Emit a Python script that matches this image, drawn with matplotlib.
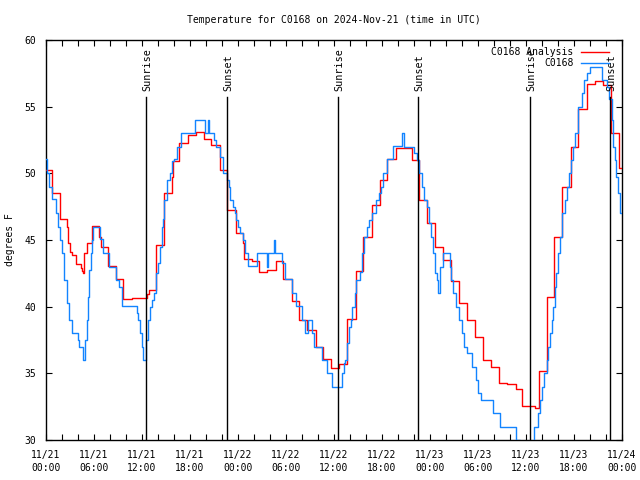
import matplotlib
matplotlib.use("Agg")
import matplotlib.pyplot as plt
from matplotlib.ticker import MultipleLocator, FixedLocator

# ---- data (hours since 2024-11-21 00:00 UTC, temperature F) ----
analysis_hours = [0.0, 0.7, 1.75, 2.6, 2.8, 3.0, 3.2, 3.7, 4.33, 4.46, 4.58, 4.8, 5.08, 5.7,
                  6.67, 6.83, 7.7, 8.75, 9.67, 10.7, 12.58, 12.9, 13.7, 14.7, 15.7, 15.9,
                  16.67, 17.8, 18.8, 19.7, 20.6, 21.75, 22.67, 23.8, 24.67, 24.8, 25.8,
                  26.67, 27.6, 28.7, 29.67, 30.7, 31.67, 32.67, 33.7, 34.67, 35.6, 36.6,
                  37.67, 38.7, 39.67, 40.7, 41.75, 42.67, 43.7, 45.7, 46.67, 47.67, 48.67,
                  49.6, 50.6, 51.6, 52.6, 53.6, 54.6, 55.6, 56.6, 57.67, 58.7, 59.5, 61.1,
                  61.6, 62.6, 63.5, 64.5, 65.6, 66.5, 67.6, 68.6, 69.6, 70.6, 71.6, 72.0]
analysis_temps = [50.25, 48.55, 46.55, 45.95, 44.8, 44.1, 43.9, 43.2, 42.9, 42.7, 42.5, 44.0,
                  44.75, 46.05, 45.2, 44.5, 43.05, 42.05, 40.6, 40.65, 40.95, 41.25, 44.6,
                  48.5, 49.7, 50.9, 52.25, 52.9, 53.1, 52.6, 52.1, 50.25, 47.25, 45.5, 44.75,
                  43.6, 43.4, 42.6, 42.75, 43.4, 42.05, 40.4, 39.0, 38.25, 37.0, 36.05, 35.4,
                  35.7, 39.1, 42.7, 45.25, 47.6, 49.5, 51.05, 51.9, 51.0, 48.0, 46.25, 44.45,
                  43.5, 41.9, 40.25, 39.0, 37.75, 36.0, 35.5, 34.3, 34.2, 33.8, 32.55, 32.4,
                  35.2, 40.75, 45.2, 49.0, 52.0, 54.8, 56.7, 56.95, 56.6, 53.0, 50.4, 50.4]

obs_hours = [0.0, 0.17, 0.42, 0.8, 1.25, 1.54, 1.75, 2.04, 2.3, 2.58, 2.88, 3.2, 3.96, 4.1,
             4.58, 4.875, 5.08, 5.3, 5.42, 5.58, 5.7, 5.92, 6.75, 7.17, 7.875, 8.75, 9.125,
             9.54, 11.33, 11.54, 11.75, 11.96, 12.17, 12.5, 12.8, 13.0, 13.3, 13.5, 13.8,
             14.0, 14.25, 14.46, 14.67, 14.8, 15.08, 15.5, 15.8, 16.04, 16.33, 16.83,
             18.625, 19.875, 20.3, 20.4, 21.0, 21.25, 21.75, 22.08, 22.67, 22.83, 23.0,
             23.33, 23.6, 23.8, 24.0, 24.3, 24.67, 24.875, 25.3, 26.33, 27.6, 27.7, 28.5,
             28.6, 29.46, 29.875, 30.7, 31.2, 32.04, 32.375, 32.8, 33.2, 33.5, 34.46,
             35.17, 35.8, 37.04, 37.2, 37.4, 37.67, 37.9, 38.1, 38.3, 38.6, 38.8, 39.2,
             39.54, 39.75, 40.08, 40.375, 40.7, 41.2, 41.625, 41.83, 42.17, 42.67, 43.4,
             44.46, 44.75, 46.04, 46.4, 46.67, 46.96, 47.25, 47.6, 47.9, 48.125, 48.4,
             48.625, 48.83, 49.04, 49.25, 49.67, 50.5, 50.58, 50.9, 51.2, 51.67, 51.96,
             52.25, 52.58, 53.2, 53.75, 54.04, 54.375, 55.9, 56.75, 58.75, 59.25, 61.04,
             61.5, 61.75, 61.96, 62.25, 62.6, 62.8, 63.0, 63.2, 63.4, 63.6, 63.8, 64.04,
             64.25, 64.5, 64.875, 65.08, 65.375, 65.58, 65.9, 66.125, 66.5, 66.96, 67.25,
             67.6, 68.0, 69.46, 70.08, 70.4, 70.7, 70.9, 71.1, 71.3, 71.5, 71.75, 72.0]
obs_temps = [51.1, 50.0, 49.0, 48.05, 47.0, 46.0, 45.0, 44.0, 42.0, 40.25, 39.0, 38.0, 37.5,
             37.0, 36.0, 37.5, 39.0, 40.75, 42.75, 44.0, 45.0, 46.0, 45.05, 44.0, 43.0, 42.0,
             41.5, 40.05, 39.5, 39.0, 38.0, 37.0, 36.0, 37.5, 39.0, 40.0, 40.5, 41.0, 42.5,
             43.25, 44.5, 46.0, 46.6, 48.0, 49.5, 50.0, 50.9, 51.1, 52.0, 53.0,
             54.0, 53.0, 54.0, 53.0, 52.5, 52.0, 51.25, 50.0, 49.5, 49.0, 48.0,
             47.5, 47.0, 46.5, 46.0, 45.5, 45.0, 44.0, 43.05, 44.0, 43.0, 44.0, 45.0,
             44.0, 43.25, 42.05, 41.0, 40.05, 39.0, 38.0, 39.0, 38.0, 37.0, 36.0,
             35.0, 34.0, 35.0, 35.75, 36.0, 37.25, 38.5, 39.0, 40.0, 41.0, 42.0, 42.6,
             44.0, 45.25, 46.0, 46.5, 47.0, 48.0, 48.5, 49.0, 50.0, 51.05, 52.05,
             53.0, 52.0, 51.5, 51.0, 50.0, 49.0, 48.0, 47.5, 46.25, 45.25, 44.0,
             42.5, 42.0, 41.0, 43.0, 44.0, 43.0, 42.0, 41.0, 40.0, 39.0, 38.0,
             37.0, 36.5, 35.5, 34.5, 33.5, 33.0, 32.0, 31.0, 30.0, 29.0, 31.0,
             32.0, 33.0, 34.0, 35.0, 36.0, 37.0, 38.0, 39.0, 40.0, 41.5, 42.5, 44.0,
             45.25, 47.0, 48.0, 49.0, 50.0, 51.0, 52.0, 53.0, 55.0, 56.0, 57.0,
             57.5, 58.0, 57.0, 56.5, 55.6, 54.0, 52.0, 51.0, 49.75, 48.5, 47.0, 47.0]

sun_hours = [12.5, 22.63, 36.5, 46.5, 60.5, 70.5]
sun_labels = ["Sunrise", "Sunset", "Sunrise", "Sunset", "Sunrise", "Sunset"]

xtick_hours = [0, 6, 12, 18, 24, 30, 36, 42, 48, 54, 60, 66, 72]
xtick_labels = ["11/21\n00:00", "11/21\n06:00", "11/21\n12:00", "11/21\n18:00",
                "11/22\n00:00", "11/22\n06:00", "11/22\n12:00", "11/22\n18:00",
                "11/23\n00:00", "11/23\n06:00", "11/23\n12:00", "11/23\n18:00",
                "11/24\n00:00"]

FONT = "DejaVu Sans Mono"
FS = 7.0
plt.rcParams["font.family"] = FONT

fig = plt.figure(figsize=(6.4, 4.8), dpi=100)
ax = fig.add_axes([46 / 640, 40 / 480, 576 / 640, 400 / 480])

RED = "#ff0000"
BLUE = "#1284ff"

ax.plot(analysis_hours, analysis_temps, drawstyle="steps-post", color=RED, lw=1.0,
        label="C0168 Analysis", zorder=3)
ax.plot(obs_hours, obs_temps, drawstyle="steps-post", color=BLUE, lw=1.0,
        label="C0168", zorder=4)

for h, lab in zip(sun_hours, sun_labels):
    ax.plot([h, h], [30, 55.7], color="black", lw=1.0, zorder=5)
    ax.text(h + 0.2, 56.15, lab, rotation=90, ha="center", va="bottom",
            fontsize=7.3, family=FONT, zorder=6)

ax.set_xlim(0, 72)
ax.set_ylim(30, 60)
ax.xaxis.set_major_locator(FixedLocator(xtick_hours))
ax.set_xticklabels(xtick_labels, fontsize=FS, linespacing=1.4)
ax.xaxis.set_minor_locator(MultipleLocator(2))
ax.yaxis.set_major_locator(MultipleLocator(5))
ax.tick_params(axis="both", which="both", direction="in", top=True, right=True,
               length=4, width=0.8, labelsize=FS)
ax.tick_params(axis="x", which="major", pad=7)
ax.tick_params(axis="y", which="major", pad=7)
for s in ax.spines.values():
    s.set_linewidth(1.0)

ax.set_ylabel("degrees F", fontsize=FS)
ax.yaxis.set_label_coords((15 - 46) / 576, 0.5)
fig.text(334 / 640, 1 - 20 / 480, "Temperature for C0168 on 2024-Nov-21 (time in UTC)",
         ha="center", va="center", fontsize=FS)

leg = fig.legend(loc="upper right", frameon=False, fontsize=FS,
                 bbox_to_anchor=(609 / 640, 1 - 47 / 480),
                 markerfirst=False, handlelength=2.85, handletextpad=0.8,
                 borderaxespad=0.0, borderpad=0.0, labelspacing=0.12)
for t in leg.get_texts():
    t.set_ha("right")
leg.set_zorder(10)

fig.savefig("out.png", dpi=100)
